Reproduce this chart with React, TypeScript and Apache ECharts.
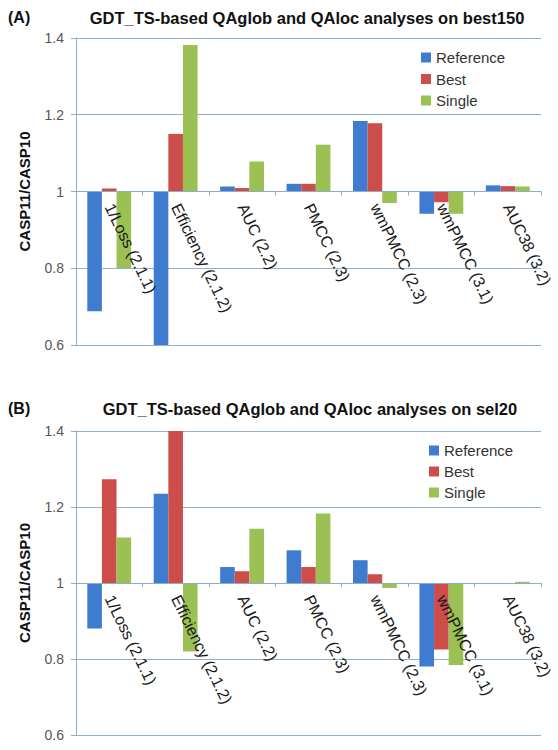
import React, { useEffect, useRef } from "react";
import * as echarts from "echarts";

const categories = [
  "1/Loss (2.1.1)",
  "Efficiency (2.1.2)",
  "AUC (2.2)",
  "PMCC (2.3)",
  "wmPMCC (2.3)",
  "wmPMCC (3.1)",
  "AUC38 (3.2)",
];
const seriesNames = ["Reference", "Best", "Single"];

// Panel A: best150
const aReference = [0.688, 0.6, 1.013, 1.02, 1.184, 0.942, 1.016];
const aBest = [1.008, 1.15, 1.009, 1.02, 1.178, 0.972, 1.014];
const aSingle = [0.8, 1.382, 1.078, 1.122, 0.97, 0.942, 1.013];

// Panel B: sel20
const bReference = [0.88, 1.235, 1.042, 1.086, 1.06, 0.78, 1.0];
const bBest = [1.273, 1.4, 1.031, 1.042, 1.023, 0.825, 1.0];
const bSingle = [1.12, 0.82, 1.143, 1.183, 0.987, 0.784, 1.003];

const yTicks = [0.6, 0.8, 1, 1.2, 1.4];
const BASE = 1;

const titleA = "GDT_TS-based QAglob and QAloc analyses on best150";
const titleB = "GDT_TS-based QAglob and QAloc analyses on sel20";
const yName = "CASP11/CASP10";

const colors = ["#3f7cd0", "#cc4d4a", "#9bc154"];
const FONT = "Liberation Sans, Arial, sans-serif";

export default function App() {
  const ref = useRef<HTMLDivElement>(null);
  useEffect(() => {
    if (!ref.current) return;
    const chart = echarts.init(ref.current, undefined, { renderer: "svg" });
    const yMin = yTicks[0] - BASE;
    const yMax = yTicks[yTicks.length - 1] - BASE;
    const step = yTicks[1] - yTicks[0];

    const grids = [
      { left: 76, right: 17, top: 38, height: 307, outerBoundsMode: "none", containLabel: false },
      { left: 76, right: 17, top: 431, height: 304, outerBoundsMode: "none", containLabel: false },
    ];

    const xAxis = grids.map((_, i) => ({
      type: "category",
      gridIndex: i,
      data: categories,
      z: 5,
      position: "bottom",
      axisLine: { onZero: false, lineStyle: { color: "#8eaec8", width: 1 } },
      axisTick: { show: true, length: 4, inside: false, lineStyle: { color: "#8eaec8" } },
      axisLabel: {
        interval: 0,
        rotate: -64,
        margin: 13,
        fontSize: 16,
        fontFamily: FONT,
        color: "#1a1a1a",
      },
    }));

    const yAxis = grids.map((_, i) => ({
      type: "value",
      gridIndex: i,
      min: yMin,
      max: yMax,
      interval: step,
      name: yName,
      nameLocation: "middle",
      nameGap: 44,
      nameTextStyle: { fontSize: 15, fontWeight: "bold", fontFamily: FONT, color: "#111" },
      axisLine: { show: true, lineStyle: { color: "#8eaec8" } },
      axisTick: { show: true, length: 5, lineStyle: { color: "#8eaec8" } },
      splitLine: { show: true, lineStyle: { color: "#8fb1cc", width: 1 } },
      axisLabel: {
        margin: 12,
        fontSize: 14,
        fontFamily: FONT,
        color: "#555",
        formatter: (v: number) => String(Math.round((v + BASE) * 10) / 10),
      },
    }));

    const panels = [
      [aReference, aBest, aSingle],
      [bReference, bBest, bSingle],
    ];
    const series: any[] = [];
    panels.forEach((data, gi) => {
      data.forEach((vals, si) => {
        series.push({
          type: "bar",
          name: seriesNames[si],
          xAxisIndex: gi,
          yAxisIndex: gi,
          data: vals.map((v) => Math.round((v - BASE) * 10000) / 10000),
          itemStyle: { color: colors[si] },
          barGap: "0%",
          barCategoryGap: "34%",
        });
      });
    });

    const legendText = { fontSize: 15, lineHeight: 15, fontFamily: FONT, color: "#333" };
    const titleText = { fontSize: 16.5, fontWeight: "bold", fontFamily: FONT, color: "#111" };
    const tagText = { fontSize: 16, fontWeight: "bold", fontFamily: FONT, color: "#111" };

    chart.setOption({
      animation: false,
      backgroundColor: "#fff",
      color: colors,
      title: [
        { text: "(A)", left: 8, top: 9, padding: 0, textStyle: tagText },
        { text: titleA, left: 307, textAlign: "center", top: 9, padding: 0, textStyle: titleText },
        { text: "(B)", left: 8, top: 400, padding: 0, textStyle: tagText },
        { text: titleB, left: 310, textAlign: "center", top: 400, padding: 0, textStyle: titleText },
      ],
      legend: [
        {
          orient: "vertical",
          left: 421,
          top: 50,
          padding: 0,
          data: seriesNames,
          icon: "rect",
          itemWidth: 10,
          itemHeight: 10,
          itemGap: 6.5,
          textStyle: legendText,
        },
        {
          orient: "vertical",
          left: 429,
          top: 443,
          padding: 0,
          data: seriesNames,
          icon: "rect",
          itemWidth: 10,
          itemHeight: 10,
          itemGap: 6,
          textStyle: legendText,
        },
      ],
      grid: grids,
      xAxis,
      yAxis,
      series,
    });

    // place each category axis on the baseline value (1) using the library's own scale
    const offsets = grids.map((_, i) => {
      const zeroPx = chart.convertToPixel({ yAxisIndex: i }, 0) as number;
      const minPx = chart.convertToPixel({ yAxisIndex: i }, yMin) as number;
      return zeroPx - minPx;
    });
    chart.setOption({ xAxis: offsets.map((o) => ({ offset: o })) });

    return () => chart.dispose();
  }, []);
  return (
    <div
      ref={ref}
      style={{ position: "fixed", left: 0, top: 0, width: 558, height: 750 }}
    />
  );
}
